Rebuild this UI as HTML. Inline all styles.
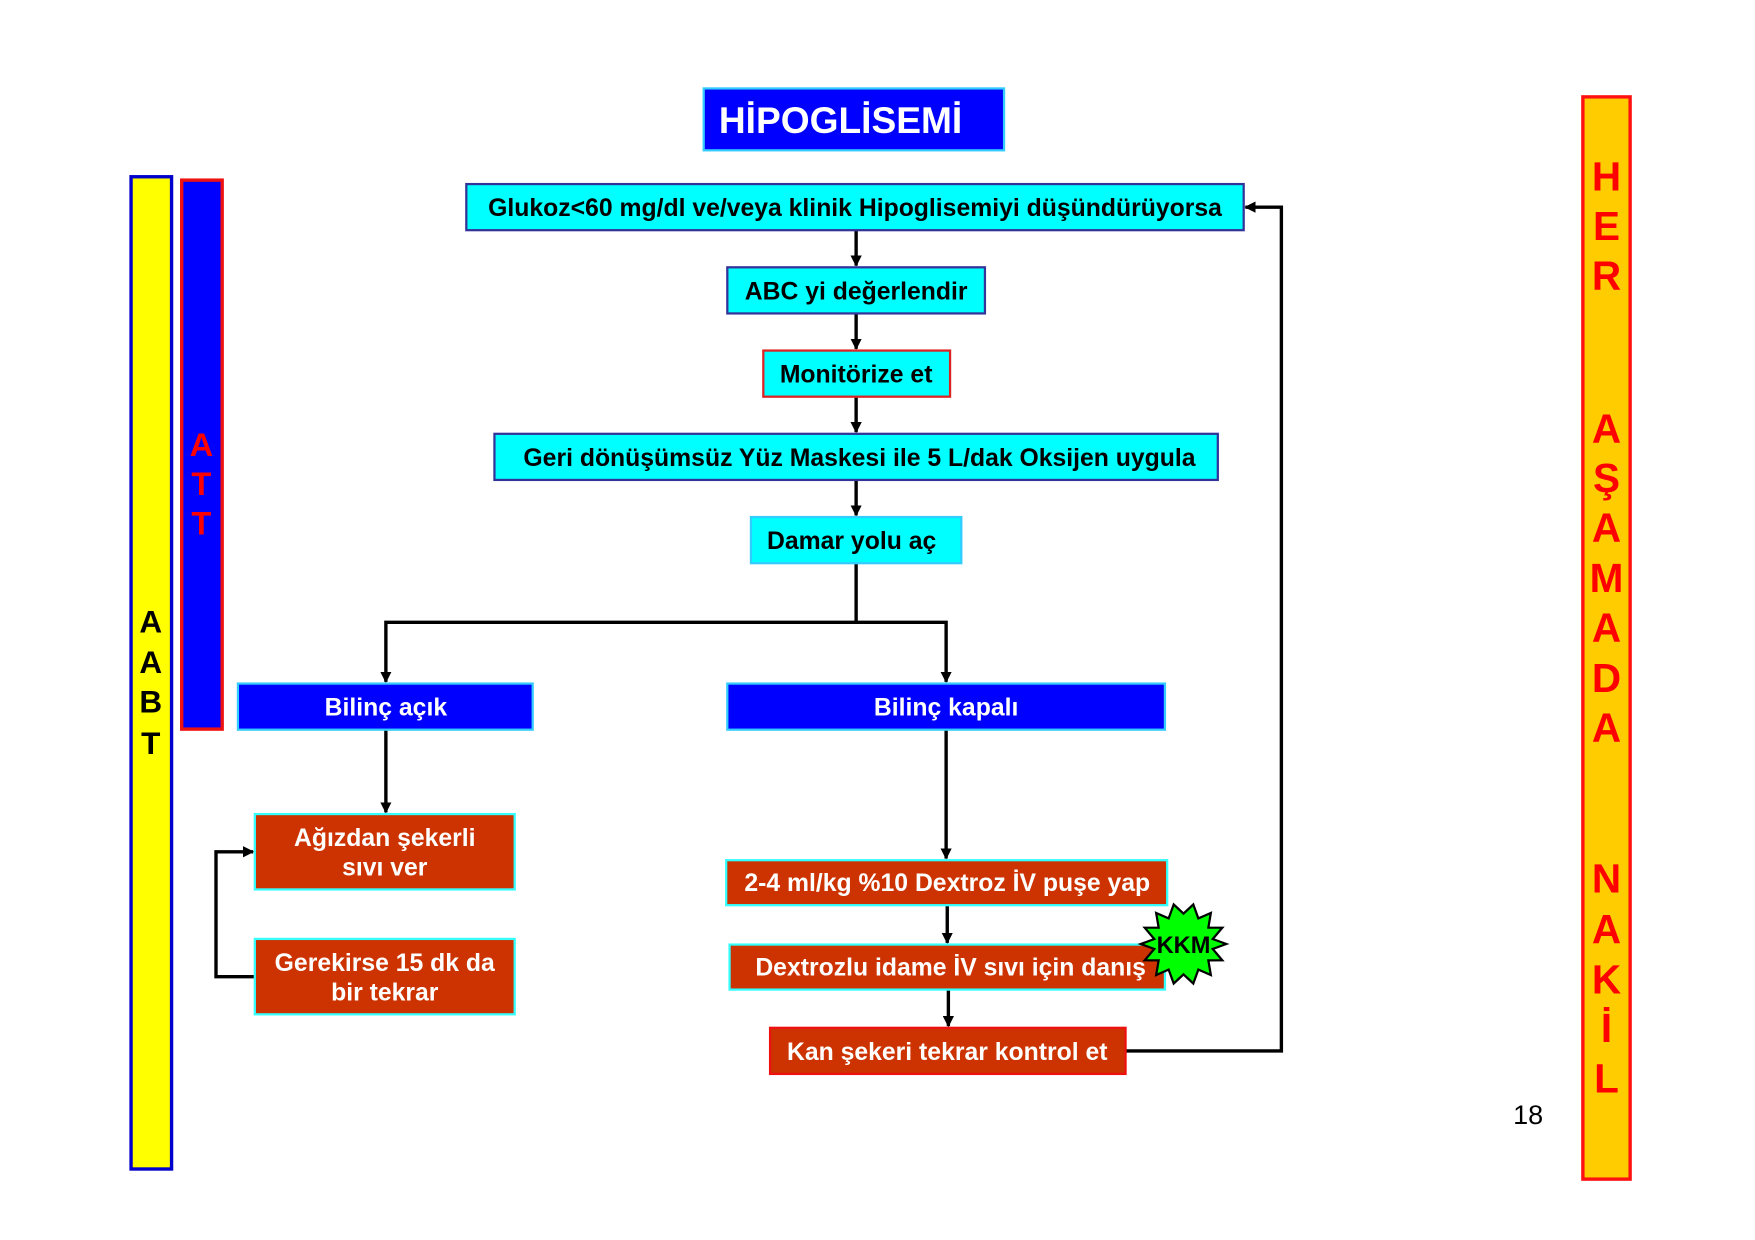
<!DOCTYPE html>
<html><head><meta charset="utf-8"><style>
html,body{margin:0;padding:0;background:#fff;}
svg{display:block;}
text{font-family:"Liberation Sans",Arial,sans-serif;font-weight:bold;}
</style></head><body>
<svg width="1755" height="1240" viewBox="0 0 1560 1102" xmlns="http://www.w3.org/2000/svg">
<defs>
<marker id="a" markerWidth="10" markerHeight="10" refX="9" refY="5" orient="auto" markerUnits="userSpaceOnUse">
<path d="M0,0 L10,5 L0,10 z" fill="#000"/></marker>
</defs>
<rect width="1560" height="1102" fill="#fff"/>
<!-- title -->
<rect x="625.5" y="78.5" width="267" height="55" fill="#0000ff" stroke="#33ccff" stroke-width="2"/>
<text x="639" y="118" font-size="33" fill="#fff">HİPOGLİSEMİ</text>
<!-- left bars -->
<rect x="116.5" y="157" width="36" height="882" fill="#ffff00" stroke="#0000cc" stroke-width="3"/>
<g font-size="28" fill="#000" text-anchor="middle">
<text x="134" y="562">A</text><text x="134" y="598">A</text><text x="134" y="633">B</text><text x="134" y="670">T</text></g>
<rect x="161.5" y="160" width="36" height="488" fill="#0000ff" stroke="#ee1111" stroke-width="3"/>
<g font-size="29" fill="#ff0000" text-anchor="middle">
<text x="179" y="405">A</text><text x="179" y="440">T</text><text x="179" y="475">T</text></g>
<!-- right bar -->
<rect x="1407" y="86" width="42" height="962" fill="#ffcc00" stroke="#ff1111" stroke-width="3"/>
<g font-size="36" fill="#ff0000" text-anchor="middle">
<text x="1428" y="169">H</text><text x="1428" y="213">E</text><text x="1428" y="257">R</text>
<text x="1428" y="393">A</text><text x="1428" y="437">Ş</text><text x="1428" y="481">A</text><text x="1428" y="526">M</text><text x="1428" y="570">A</text><text x="1428" y="615">D</text><text x="1428" y="659">A</text>
<text x="1428" y="793">N</text><text x="1428" y="838">A</text><text x="1428" y="883">K</text><text x="1428" y="926">İ</text><text x="1428" y="971">L</text></g>
<text x="1345" y="999" font-size="24" style="font-weight:normal" fill="#000">18</text>
<!-- connectors -->
<g stroke="#000" stroke-width="3" fill="none">
<line x1="761" y1="205" x2="761" y2="236" marker-end="url(#a)"/>
<line x1="761" y1="279" x2="761" y2="310" marker-end="url(#a)"/>
<line x1="761" y1="353" x2="761" y2="384" marker-end="url(#a)"/>
<line x1="761" y1="427" x2="761" y2="458" marker-end="url(#a)"/>
<polyline points="761,501 761,553 343,553 343,606" marker-end="url(#a)"/>
<polyline points="761,553 841,553 841,606" marker-end="url(#a)"/>
<line x1="343" y1="649" x2="343" y2="722" marker-end="url(#a)"/>
<polyline points="226,868 192,868 192,757 225,757" marker-end="url(#a)"/>
<line x1="841" y1="649" x2="841" y2="763" marker-end="url(#a)"/>
<line x1="842" y1="805" x2="842" y2="838" marker-end="url(#a)"/>
<line x1="843" y1="880" x2="843" y2="912" marker-end="url(#a)"/>
<polyline points="1001,934 1139,934 1139,184 1107,184" marker-end="url(#a)"/>
</g>
<!-- boxes -->
<g font-size="22" text-anchor="middle">
<rect x="414.5" y="163.5" width="691" height="41" fill="#00ffff" stroke="#333399" stroke-width="2"/>
<text x="760" y="192" fill="#000">Glukoz&lt;60 mg/dl ve/veya klinik Hipoglisemiyi düşündürüyorsa</text>
<rect x="646.5" y="237.5" width="229" height="41" fill="#00ffff" stroke="#333399" stroke-width="2"/>
<text x="761" y="266" fill="#000">ABC yi değerlendir</text>
<rect x="678.5" y="311.5" width="166" height="41" fill="#00ffff" stroke="#dd2222" stroke-width="2"/>
<text x="761" y="340" fill="#000">Monitörize et</text>
<rect x="439.5" y="385.5" width="643" height="41" fill="#00ffff" stroke="#333399" stroke-width="2"/>
<text x="764" y="414" fill="#000">Geri dönüşümsüz Yüz Maskesi ile 5 L/dak Oksijen uygula</text>
<rect x="667.5" y="459.5" width="187" height="41" fill="#00ffff" stroke="#33ccff" stroke-width="2"/>
<text x="757" y="488" fill="#000">Damar yolu aç</text>
<rect x="211.5" y="607.5" width="262" height="41" fill="#0000ff" stroke="#33ccff" stroke-width="2"/>
<text x="343" y="636" fill="#fff">Bilinç açık</text>
<rect x="646.5" y="607.5" width="389" height="41" fill="#0000ff" stroke="#33ccff" stroke-width="2"/>
<text x="841" y="636" fill="#fff">Bilinç kapalı</text>
<rect x="226.5" y="723.5" width="231" height="67" fill="#cc3300" stroke="#33ffff" stroke-width="2"/>
<text x="342" y="752" fill="#fff">Ağızdan şekerli</text>
<text x="342" y="778" fill="#fff">sıvı ver</text>
<rect x="226.5" y="834.5" width="231" height="67" fill="#cc3300" stroke="#33ffff" stroke-width="2"/>
<text x="342" y="863" fill="#fff">Gerekirse 15 dk da</text>
<text x="342" y="889" fill="#fff">bir tekrar</text>
<rect x="645.5" y="764.5" width="392" height="40" fill="#cc3300" stroke="#33ffff" stroke-width="2"/>
<text x="842" y="792" fill="#fff">2-4 ml/kg %10 Dextroz İV puşe yap</text>
<rect x="648.5" y="839.5" width="387" height="40" fill="#cc3300" stroke="#33ffff" stroke-width="2"/>
<text x="845" y="867" fill="#fff">Dextrozlu idame İV sıvı için danış</text>
<rect x="684.5" y="913.5" width="316" height="41" fill="#cc3300" stroke="#ee1111" stroke-width="2"/>
<text x="842" y="942" fill="#fff">Kan şekeri tekrar kontrol et</text>
</g>
<!-- KKM star -->
<polygon fill="#00ff00" stroke="#000" stroke-width="2" points="
1090.0,839.0 1078.0,843.4 1086.5,853.5 1074.1,853.6 1076.3,866.6 1065.2,861.8 1060.7,874.1 1052.0,866.0 1043.3,874.1 1038.8,861.8 1027.7,866.6 1029.9,853.6 1017.5,853.5 1026.0,843.4 1014.0,839.0 1026.0,834.6 1017.5,824.5 1029.9,824.4 1027.7,811.4 1038.8,816.2 1043.3,803.9 1052.0,812.0 1060.7,803.9 1065.2,816.2 1076.3,811.4 1074.1,824.4 1086.5,824.5 1078.0,834.6"/>
<text x="1052" y="847" font-size="21" text-anchor="middle" fill="#000">KKM</text>
</svg>
</body></html>
